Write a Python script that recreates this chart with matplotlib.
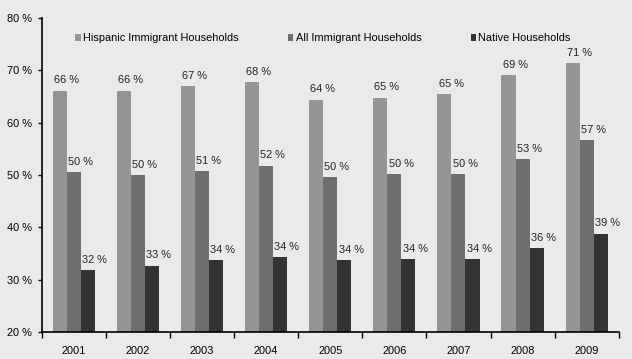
import matplotlib.pyplot as plt
import numpy as np

plt.rcParams['font.family'] = ['Liberation Sans Narrow', 'Liberation Sans', 'DejaVu Sans']

years = ['2001', '2002', '2003', '2004', '2005', '2006', '2007', '2008', '2009']
hispanic = [66.1, 66.1, 67.0, 67.8, 64.4, 64.8, 65.5, 69.1, 71.4]
all_imm = [50.5, 50.0, 50.7, 51.8, 49.6, 50.2, 50.2, 53.1, 56.7]
native = [31.9, 32.7, 33.7, 34.3, 33.8, 33.9, 33.9, 36.0, 38.8]
hispanic_lbl = ['66 %', '66 %', '67 %', '68 %', '64 %', '65 %', '65 %', '69 %', '71 %']
all_imm_lbl = ['50 %', '50 %', '51 %', '52 %', '50 %', '50 %', '50 %', '53 %', '57 %']
native_lbl = ['32 %', '33 %', '34 %', '34 %', '34 %', '34 %', '34 %', '36 %', '39 %']
series = ['Hispanic Immigrant Households', 'All Immigrant Households', 'Native Households']
colors = ['#959595', '#6e6e6e', '#333333']
bg = '#e9eaec'
fs = 7.9

fig = plt.figure(figsize=(6.32, 3.59), dpi=100, facecolor=bg)
ax = fig.add_axes([0.066, 0.075, 0.913, 0.875], facecolor=bg)

x = np.arange(len(years))
w = 0.22
for i, (vals, lbls) in enumerate(zip([hispanic, all_imm, native],
                                     [hispanic_lbl, all_imm_lbl, native_lbl])):
    pos = x + (i - 1) * w
    ax.bar(pos, vals, width=w, bottom=0, color=colors[i], label=series[i])
    for p, v, t in zip(pos, vals, lbls):
        ax.text(p - w / 2 + 0.02, v + 1.0, t, ha='left', va='bottom',
                fontsize=fs, color='#222222')

ax.set_ylim(20, 80)
ax.set_xlim(-0.5, len(years) - 0.5)
ax.set_yticks(range(20, 81, 10))
ax.set_yticklabels([f'{v} %' for v in range(20, 81, 10)], fontsize=fs)
ax.set_xticks(x)
ax.set_xticklabels(years, fontsize=fs)
ax.set_xticks(np.arange(-0.5, len(years), 1), minor=True)
ax.tick_params(axis='x', which='major', length=0, pad=10)
ax.tick_params(axis='x', which='minor', length=4, width=1, direction='out')
ax.tick_params(axis='y', length=3, width=1, pad=4)
for s in ['top', 'right']:
    ax.spines[s].set_visible(False)
ax.spines['left'].set_linewidth(1.2)
ax.spines['bottom'].set_linewidth(1.2)

ax.legend(ncol=3, loc='upper left', bbox_to_anchor=(0.041, 0.982), frameon=False,
          fontsize=fs, handlelength=0.5, handleheight=0.5, handletextpad=0.2,
          columnspacing=4.5)

fig.savefig('out.png', dpi=100, facecolor=bg)
